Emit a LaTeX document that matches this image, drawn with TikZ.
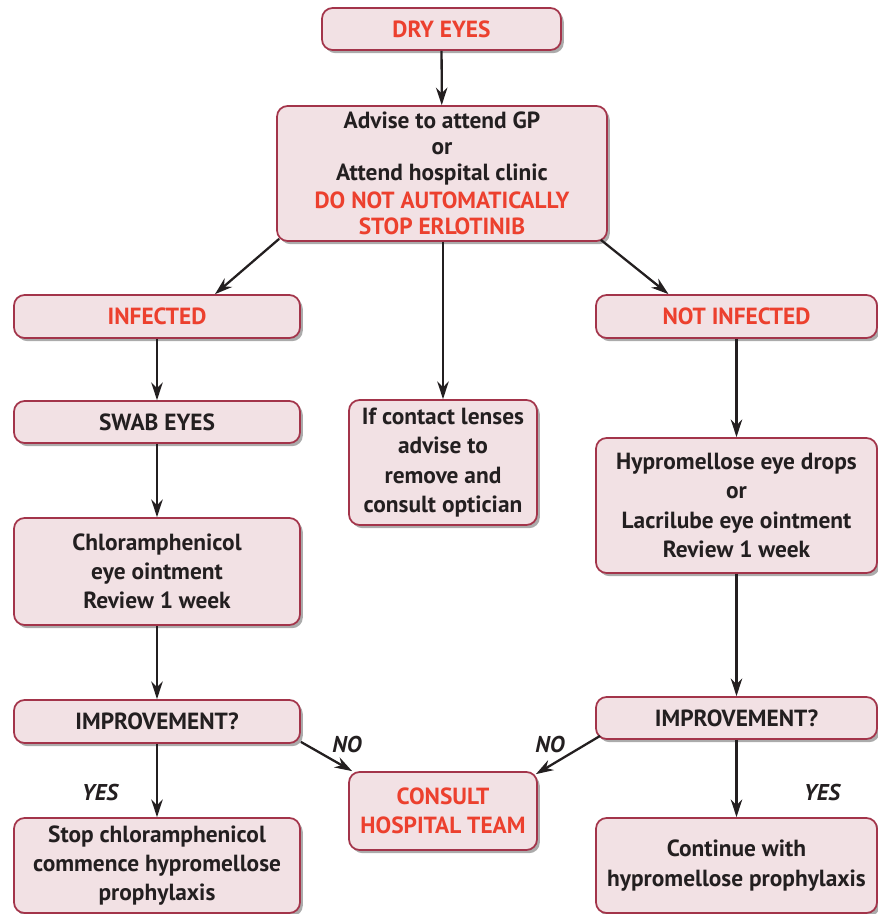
\documentclass[tikz,border=0pt]{standalone}
\usepackage{fontspec}
\setmainfont{PT Sans}
\usetikzlibrary{arrows.meta,shadows,calc}

\definecolor{boxfill}{RGB}{242,225,228}
\definecolor{boxline}{RGB}{163,52,74}
\definecolor{warnred}{RGB}{236,64,46}
\definecolor{inkdark}{RGB}{35,31,32}

\begin{document}
\begin{tikzpicture}[x=0.02cm, y=-0.02cm,
    flowbox/.style={draw=boxline, fill=boxfill, line width=1pt, rounded corners=6pt,
        align=center, inner sep=2pt, text=inkdark,
        font=\bfseries\fontsize{13.3}{16.6}\selectfont,
        drop shadow={shadow xshift=1.6pt, shadow yshift=-1.8pt, fill=black!55, opacity=0.6}},
    redtext/.style={text=warnred},
    flowarrow/.style={draw=inkdark, line width=1.3pt, -{Stealth[length=10pt,width=6.5pt]}},
    answer/.style={font=\bfseries\itshape\fontsize{13}{15}\selectfont, text=inkdark}]
    \useasboundingbox (0,0) rectangle (877,914);

    % top of the chart
    \node[flowbox, redtext, minimum width=4.78cm, minimum height=0.84cm] (dry) at (441.5,29) {DRY EYES};
    \node[flowbox, minimum width=6.6cm, minimum height=2.7cm, font=\bfseries\fontsize{13.3}{14.9}\selectfont] (advise) at (442,173.5)
        {Advise to attend GP\\or\\Attend hospital clinic\\[1pt]
         \textcolor{warnred}{DO NOT AUTOMATICALLY}\\\textcolor{warnred}{STOP ERLOTINIB}};

    % left branch
    \node[flowbox, redtext, minimum width=5.72cm, minimum height=0.86cm] (infected) at (157,316.5) {INFECTED};
    \node[flowbox, minimum width=5.72cm, minimum height=0.84cm] (swab) at (157,422) {SWAB EYES};
    \node[flowbox, minimum width=5.72cm, minimum height=2.14cm] (chloram) at (157,571.5)
        {Chloramphenicol\\eye ointment\\Review 1 week};
    \node[flowbox, minimum width=5.72cm, minimum height=0.86cm] (improveL) at (157,721.5) {IMPROVEMENT?};
    \node[flowbox, minimum width=5.72cm, minimum height=1.9cm] (stopchl) at (157,865.5)
        {Stop chloramphenicol\\commence hypromellose\\prophylaxis};

    % middle
    \node[flowbox, minimum width=3.76cm, minimum height=2.5cm] (lenses) at (443,462.5)
        {If contact lenses\\advise to\\remove and\\consult optician};
    \node[flowbox, redtext, minimum width=3.76cm, minimum height=1.56cm] (consult) at (443,811)
        {CONSULT\\HOSPITAL TEAM};

    % right branch
    \node[flowbox, redtext, minimum width=5.62cm, minimum height=0.86cm] (notinf) at (736.5,316.5) {NOT INFECTED};
    \node[flowbox, minimum width=5.62cm, minimum height=2.7cm] (hypro) at (736.5,505.5)
        {Hypromellose eye drops\\or\\Lacrilube eye ointment\\Review 1 week};
    \node[flowbox, minimum width=5.62cm, minimum height=0.84cm] (improveR) at (736.5,718) {IMPROVEMENT?};
    \node[flowbox, minimum width=5.62cm, minimum height=1.9cm] (contin) at (736.5,865.5)
        {Continue with\\hypromellose prophylaxis};

    % answers
    \node[answer] (noL) at (347,744) {NO};
    \node[answer] (noR) at (550,744) {NO};
    \node[answer] (yesL) at (100,792) {YES};
    \node[answer] (yesR) at (822,792) {YES};

    % arrows
    \draw[flowarrow] (dry) -- (advise);
    \draw[flowarrow] ($(advise.south west)+(3,-3)$) -- ($(infected.north)+(58,0)$);
    \draw[flowarrow] ($(advise.south east)+(-7,-2)$) -- ($(notinf.north)+(-68,0)$);
    \draw[flowarrow] (advise.south -| lenses) -- (lenses);
    \draw[flowarrow] (infected) -- (swab);
    \draw[flowarrow] (swab) -- (chloram);
    \draw[flowarrow] (chloram) -- (improveL);
    \draw[flowarrow] (improveL) -- (stopchl);
    \draw[flowarrow] ($(improveL.south east)+(0,-2)$) -- ($(consult.north west)+(4,0)$);
    \draw[flowarrow] (notinf) -- (hypro);
    \draw[flowarrow] (hypro) -- (improveR);
    \draw[flowarrow] (improveR) -- (contin);
    \draw[flowarrow] ($(improveR.south west)+(5,-4)$) -- ($(consult.north east)+(-2,3)$);
\end{tikzpicture}
\end{document}
